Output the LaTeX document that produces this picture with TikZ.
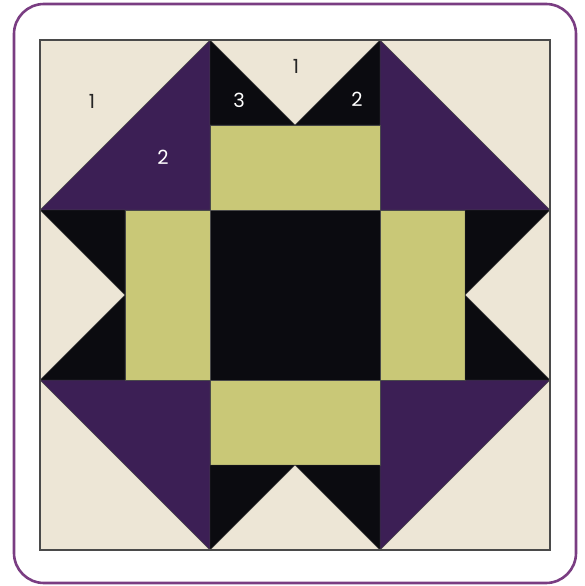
\documentclass[tikz,border=0pt]{standalone}
\usepackage{fontspec}
\setmainfont{Poppins}
\definecolor{cream}{HTML}{EDE6D6}
\definecolor{plum}{HTML}{3C1F55}
\definecolor{ink}{HTML}{0B0B10}
\definecolor{olive}{HTML}{C9C877}
\definecolor{frame}{HTML}{7A3D82}
\definecolor{edge}{HTML}{4A4A4A}
\begin{document}
\begin{tikzpicture}[x=1pt,y=-1pt,
  piece/.style={draw=edge,line width=0.4pt,line join=miter},
  lbl/.style={font=\fontsize{19.5}{19.5}\selectfont,inner sep=0pt},
  dark/.style={lbl,text=white},
  light/.style={lbl,text=black!85}]
\useasboundingbox (0,0) rectangle (584,586);
\draw[frame,line width=2.6pt,rounded corners=30pt] (14,4) rectangle (576,583);
% background
\fill[cream] (40,40) rectangle (550,550);
% corner half-square triangles
\fill[plum,piece] (40,210) -- (210,40) -- (210,210) -- cycle;
\fill[plum,piece] (380,40) -- (550,210) -- (380,210) -- cycle;
\fill[plum,piece] (40,380) -- (210,380) -- (210,550) -- cycle;
\fill[plum,piece] (380,380) -- (550,380) -- (380,550) -- cycle;
% center square
\fill[ink,piece] (210,210) rectangle (380,380);
% green bars
\fill[olive,piece] (210,125) rectangle (380,210);
\fill[olive,piece] (210,380) rectangle (380,465);
\fill[olive,piece] (125,210) rectangle (210,380);
\fill[olive,piece] (380,210) rectangle (465,380);
% flying geese black triangles
\fill[ink,piece] (210,40) -- (295,125) -- (210,125) -- cycle;
\fill[ink,piece] (380,40) -- (295,125) -- (380,125) -- cycle;
\fill[ink,piece] (210,550) -- (295,465) -- (210,465) -- cycle;
\fill[ink,piece] (380,550) -- (295,465) -- (380,465) -- cycle;
\fill[ink,piece] (40,210) -- (125,295) -- (125,210) -- cycle;
\fill[ink,piece] (40,380) -- (125,295) -- (125,380) -- cycle;
\fill[ink,piece] (550,210) -- (465,295) -- (465,210) -- cycle;
\fill[ink,piece] (550,380) -- (465,295) -- (465,380) -- cycle;
% outline
\draw[edge,line width=1.2pt] (40,40) rectangle (550,550);
% labels
\node[light] (l1) at (92,101) {1};
\node[dark] (l2) at (163,157) {2};
\node[light] (l3) at (296,66) {1};
\node[dark] (l4) at (239,100) {3};
\node[dark] (l5) at (357,99) {2};
\end{tikzpicture}
\end{document}
